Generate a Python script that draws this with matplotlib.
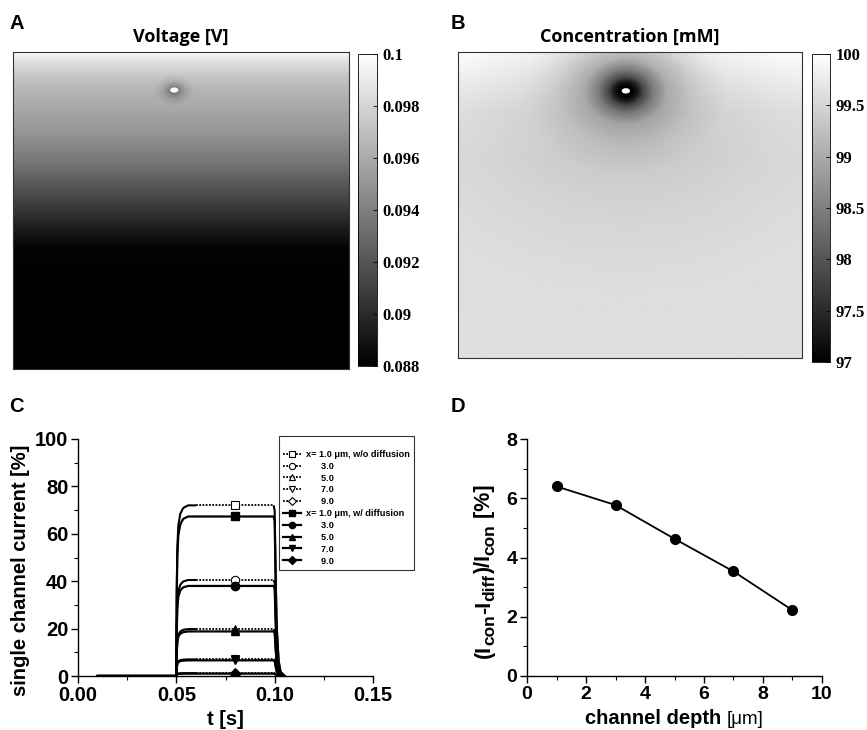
import numpy as np
import matplotlib
matplotlib.use("Agg")
import matplotlib.pyplot as plt
from matplotlib.patches import Ellipse
from matplotlib.ticker import MultipleLocator

plt.rcParams['font.family'] = ['Liberation Sans', 'DejaVu Sans']

# ---------------- Data ----------------
# Panel A: voltage field (profile along depth, read from grey levels)
v_depth = [0.0, 0.03, 0.08, 0.12, 0.25, 0.35, 0.45, 0.55, 0.62, 1.0]
v_values = [0.0997, 0.0985, 0.0972, 0.0965, 0.0951, 0.0935, 0.0915, 0.0895, 0.0882, 0.0876]
v_spot_r = [0.0, 0.01, 0.02, 0.035, 0.06]
v_spot_dv = [-0.004, -0.003, -0.002, -0.0008, 0.0]
v_spot_center = (0.48, 0.12)
a_ticks = [0.088, 0.090, 0.092, 0.094, 0.096, 0.098, 0.100]
a_ticklabels = ["0.088", "0.09", "0.092", "0.094", "0.096", "0.098", "0.1"]

# Panel B: concentration field (radial profile round the channel)
c_r = [0.0, 0.02, 0.035, 0.05, 0.08, 0.12, 0.2, 0.3, 0.45, 0.7, 1.2]
c_values = [97.0, 97.0, 97.3, 97.8, 98.4, 98.9, 99.2, 99.4, 99.5, 99.6, 99.65]
c_edge_depth = [0.0, 0.1, 0.2, 0.35, 1.0]
c_edge_boost = [0.45, 0.25, 0.08, 0.0, 0.0]
c_spot_center = (0.488, 0.127)
b_ticks = [97, 97.5, 98, 98.5, 99, 99.5, 100]
b_ticklabels = ["97", "97.5", "98", "98.5", "99", "99.5", "100"]

# Panel C: single channel current traces
t = [0.010, 0.050, 0.0502, 0.0505, 0.051, 0.052, 0.0535, 0.056, 0.060, 0.080,
     0.0995, 0.100, 0.1005, 0.101, 0.102, 0.103, 0.105]
i_wo_1 = [0, 0, 36.0, 54.0, 63.4, 68.4, 70.9, 72.0, 72.0, 72.0, 72.0, 69.8, 43.2, 21.6, 6.5, 1.8, 0]
i_wo_3 = [0, 0, 20.3, 30.4, 35.6, 38.5, 39.9, 40.5, 40.5, 40.5, 40.5, 39.3, 24.3, 12.2, 3.6, 1.0, 0]
i_wo_5 = [0, 0, 9.9, 14.9, 17.4, 18.8, 19.5, 19.8, 19.8, 19.8, 19.8, 19.2, 11.9, 5.9, 1.8, 0.5, 0]
i_wo_7 = [0, 0, 3.5, 5.3, 6.2, 6.7, 6.9, 7.0, 7.0, 7.0, 7.0, 6.8, 4.2, 2.1, 0.6, 0.2, 0]
i_wo_9 = [0, 0, 0.6, 0.9, 1.06, 1.14, 1.18, 1.2, 1.2, 1.2, 1.2, 1.16, 0.72, 0.36, 0.11, 0.03, 0]
i_w_1 = [0, 0, 33.7, 50.5, 59.2, 63.9, 66.3, 67.3, 67.3, 67.3, 67.3, 65.3, 40.4, 20.2, 6.1, 1.7, 0]
i_w_3 = [0, 0, 19.0, 28.5, 33.4, 36.1, 37.4, 38.0, 38.0, 38.0, 38.0, 36.9, 22.8, 11.4, 3.4, 1.0, 0]
i_w_5 = [0, 0, 9.4, 14.1, 16.5, 17.9, 18.5, 18.8, 18.8, 18.8, 18.8, 18.2, 11.3, 5.6, 1.7, 0.5, 0]
i_w_7 = [0, 0, 3.3, 5.0, 5.8, 6.3, 6.5, 6.6, 6.6, 6.6, 6.6, 6.4, 4.0, 2.0, 0.6, 0.17, 0]
i_w_9 = [0, 0, 0.5, 0.75, 0.88, 0.95, 0.985, 1.0, 1.0, 1.0, 1.0, 0.97, 0.6, 0.3, 0.09, 0.025, 0]
marker_t = 0.080
dotted_from_t = 0.060
dotted_to_t = 0.0995
labels_wo = ["x= 1.0 \u03bcm, w/o diffusion", "      3.0", "      5.0", "      7.0", "      9.0"]
labels_w = ["x= 1.0 \u03bcm, w/ diffusion", "      3.0", "      5.0", "      7.0", "      9.0"]
markers = ['s', 'o', '^', 'v', 'D']

# Panel D
depth = [1, 3, 5, 7, 9]
rel_diff = [6.40, 5.77, 4.63, 3.53, 2.22]

# ---------------- Figure ----------------
fig = plt.figure(figsize=(8.67, 7.30), dpi=100)
W, H = 867.0, 730.0

def ax_px(x0, y0, x1, y1):
    return fig.add_axes([x0 / W, 1 - y1 / H, (x1 - x0) / W, (y1 - y0) / H])

n = 400
xx, yy = np.meshgrid(np.linspace(0, 1, n), np.linspace(0, 1, n))

def style_cbar(cax, cb):
    cax.tick_params(direction='in', length=3, width=0.6, labelsize=12, pad=4)
    for lab in cax.get_yticklabels():
        lab.set_family(['Liberation Serif']); lab.set_fontweight('bold')
    cb.outline.set_linewidth(0.6)

def style_img(ax):
    ax.set_xticks([]); ax.set_yticks([])
    for s in ax.spines.values():
        s.set_linewidth(0.8); s.set_color('#333333')

# ---- Panel A ----
axA = ax_px(13, 52, 349, 369)
rA = np.hypot(xx - v_spot_center[0], (yy - v_spot_center[1]) * 1.2)
V = np.interp(yy, v_depth, v_values) + np.interp(rA, v_spot_r, v_spot_dv)
imA = axA.imshow(V, cmap='gray', vmin=0.088, vmax=0.100, extent=(0, 1, 1, 0),
                 aspect='auto', interpolation='bilinear')
axA.add_patch(Ellipse(v_spot_center, 0.02, 0.012, color='white', zorder=3))
style_img(axA)
axA.set_title("Voltage [V]", family=['Open Sans', 'DejaVu Sans'], fontweight='bold',
              fontsize=13, pad=7)
caxA = ax_px(358, 54, 377, 366)
cbA = fig.colorbar(imA, cax=caxA)
cbA.set_ticks(a_ticks)
cbA.set_ticklabels(a_ticklabels)
style_cbar(caxA, cbA)

# ---- Panel B ----
axB = ax_px(458, 52, 802, 358)
rB = np.hypot(xx - c_spot_center[0], (yy - c_spot_center[1]) * 1.1)
C = np.interp(rB, c_r, c_values) + np.interp(yy, c_edge_depth, c_edge_boost) * np.clip(rB / 0.25, 0, 1)
imB = axB.imshow(C, cmap='gray', vmin=97, vmax=100, extent=(0, 1, 1, 0),
                 aspect='auto', interpolation='bilinear')
axB.add_patch(Ellipse(c_spot_center, 0.02, 0.013, color='white', zorder=3))
style_img(axB)
axB.set_title("Concentration [mM]", family=['Open Sans', 'DejaVu Sans'], fontweight='bold',
              fontsize=13, pad=7)
caxB = ax_px(812, 54, 830, 362)
cbB = fig.colorbar(imB, cax=caxB)
cbB.set_ticks(b_ticks)
cbB.set_ticklabels(b_ticklabels)
style_cbar(caxB, cbB)

# ---- Panel C ----
axC = ax_px(78, 439, 373, 676)
mi = t.index(marker_t)
k0 = t.index(dotted_from_t)
k1 = t.index(dotted_to_t)
handles = []
for y, lab, m in zip([i_wo_1, i_wo_3, i_wo_5, i_wo_7, i_wo_9], labels_wo, markers):
    ms = 6 if m != 'D' else 5
    # rise and fall drawn solid, plateau dotted (as in the original trace rendering)
    axC.plot(t[:k0 + 1], y[:k0 + 1], color='black', lw=1.5, solid_capstyle='butt')
    axC.plot(t[k1:], y[k1:], color='black', lw=1.5, solid_capstyle='butt')
    h, = axC.plot(t[k0:k1 + 1], y[k0:k1 + 1], color='black', linestyle=(0, (1, 0.8)), lw=1.3,
                  marker=m, markevery=[mi - k0], markersize=ms,
                  markerfacecolor='white', markeredgecolor='black', markeredgewidth=0.8,
                  label=lab, zorder=3)
    handles.append(h)
for y, lab, m in zip([i_w_1, i_w_3, i_w_5, i_w_7, i_w_9], labels_w, markers):
    ms = 6 if m != 'D' else 5
    h, = axC.plot(t, y, color='black', linestyle='-', lw=1.6, marker=m,
                  markevery=[mi], markersize=ms,
                  markerfacecolor='black', markeredgecolor='black', label=lab, zorder=4)
    handles.append(h)
axC.set_xlim(0, 0.15)
axC.set_ylim(0, 100)
axC.set_xticks([0, 0.05, 0.10, 0.15])
axC.set_xticklabels(["0.00", "0.05", "0.10", "0.15"])
axC.xaxis.set_minor_locator(MultipleLocator(0.025))
axC.set_yticks([0, 20, 40, 60, 80, 100])
axC.yaxis.set_minor_locator(MultipleLocator(10))
axC.set_xlabel("t [s]", fontsize=14.5, fontweight='bold', labelpad=4)
axC.set_ylabel("single channel current [%]", fontsize=14.5, fontweight='bold')
axC.yaxis.set_label_coords(-0.163, 0.447)
leg = fig.legend(handles=handles, loc='upper left', bbox_to_anchor=(279 / W, 1 - 436 / H),
                 prop={'size': 6.6, 'weight': 'bold'}, frameon=True, fancybox=False,
                 edgecolor='black', handlelength=2.0, handletextpad=0.5,
                 labelspacing=0.31, borderpad=0.45, borderaxespad=0, markerscale=0.75,
                 title=" ", title_fontproperties={'size': 5})
leg.get_frame().set_linewidth(0.8)

# ---- Panel D ----
axD = ax_px(527, 439, 822, 676)
axD.plot(depth, rel_diff, color='black', lw=1.3, marker='o', markersize=7,
         markerfacecolor='black')
axD.set_xlim(0, 10)
axD.set_ylim(0, 8)
axD.set_xticks([0, 2, 4, 6, 8, 10])
axD.xaxis.set_minor_locator(MultipleLocator(1))
axD.set_yticks([0, 2, 4, 6, 8])
axD.yaxis.set_minor_locator(MultipleLocator(1))

for ax, ls in ((axC, 14.5), (axD, 14)):
    for side in ('top', 'right'):
        ax.spines[side].set_visible(False)
    for side in ('left', 'bottom'):
        ax.spines[side].set_linewidth(1.0)
    ax.tick_params(which='major', direction='out', length=5, width=1.0, labelsize=ls, pad=2)
    ax.tick_params(which='minor', direction='out', length=3, width=0.8)
    for lab in ax.get_xticklabels() + ax.get_yticklabels():
        lab.set_fontweight('bold')

# Composite labels for panel D (subscripts nearly full size, unit in lighter weight)
renderer = fig.canvas.get_renderer()

def place_vertical(pieces, x_px, y_px):
    y = y_px
    for s, size, weight, dx in pieces:
        txt = fig.text((x_px + dx) / W, 1 - y / H, s, rotation=90, rotation_mode='anchor',
                       ha='left', va='baseline', fontsize=size, fontweight=weight)
        y -= txt.get_window_extent(renderer).height

def place_horizontal_centered(pieces, xc_px, y_px):
    texts = []
    total = 0.0
    for s, size, weight, dy in pieces:
        txt = fig.text(0, 1 - (y_px + dy) / H, s, ha='left', va='baseline',
                       fontsize=size, fontweight=weight)
        w = txt.get_window_extent(renderer).width
        texts.append((txt, w))
        total += w
    x = xc_px - total / 2
    for txt, w in texts:
        txt.set_x(x / W)
        x += w

place_vertical([("(I", 15.5, 'bold', 0), ("con", 12.5, 'bold', 4), ("-I", 15.5, 'bold', 0),
                ("diff", 12.5, 'bold', 4), (")/I", 15.5, 'bold', 0), ("con", 12.5, 'bold', 4),
                (" [%]", 15.5, 'bold', 0)], 490, 658)
place_horizontal_centered([("channel depth ", 14.5, 'bold', 0), ("[\u03bcm]", 13.5, 'normal', 0)],
                          674, 724)

# Panel letters
for letter, x, y in [("A", 9, 29), ("B", 451, 29), ("C", 9, 412), ("D", 451, 412)]:
    fig.text(x / W, 1 - y / H, letter, fontsize=14.5, fontweight='bold')

fig.savefig("out.png", dpi=100)
